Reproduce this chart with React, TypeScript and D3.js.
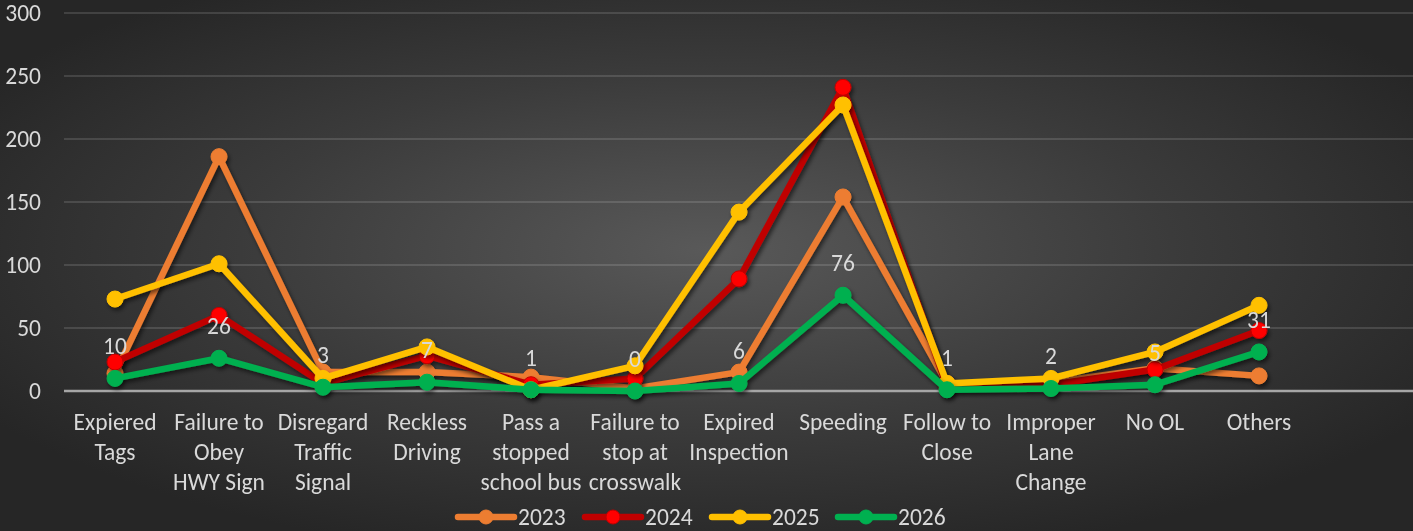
import React from "react";
import * as d3 from "d3";

const categories: string[][] = [
  ["Expiered", "Tags"],
  ["Failure to", "Obey", "HWY Sign"],
  ["Disregard", "Traffic", "Signal"],
  ["Reckless", "Driving"],
  ["Pass a", "stopped", "school bus"],
  ["Failure to", "stop at", "crosswalk"],
  ["Expired", "Inspection"],
  ["Speeding"],
  ["Follow to", "Close"],
  ["Improper", "Lane", "Change"],
  ["No OL"],
  ["Others"],
];

const values2023 = [14, 186, 15, 15, 11, 2, 15, 154, 6, 7, 18, 12];
const values2024 = [23, 60, 6, 28, 5, 10, 89, 241, 3, 5, 17, 48];
const values2025 = [73, 101, 10, 35, 1, 20, 142, 227, 6, 10, 31, 68];
const values2026 = [10, 26, 3, 7, 1, 0, 6, 76, 1, 2, 5, 31];

const yTicks = [0, 50, 100, 150, 200, 250, 300];

const seriesNames = ["2023", "2024", "2025", "2026"];
const seriesData = [values2023, values2024, values2025, values2026];
const lineColors = ["#ED7D31", "#C00000", "#FFC000", "#00B050"];
const markerFills = ["#ED7D31", "#FF0000", "#FFC000", "#00B050"];
const markerStrokes = ["#ED7D31", "#C00000", "#FFC000", "#00B050"];

const W = 1413;
const H = 531;
const FONT = "Carlito, Lato, 'Open Sans', sans-serif";
const FS = 23.5;

export default function App() {
  const keys = categories.map((c) => c.join(" "));
  const x = d3.scalePoint<string>().domain(keys).range([115, 1259]);
  const y = d3.scaleLinear().domain([0, 300]).range([391, 13]);
  const line = d3
    .line<number>()
    .x((_, i) => x(keys[i]) as number)
    .y((d) => y(d));

  const legendX = [458, 585, 712, 838];
  const legendY = 517;

  return (
    <svg
      width={W}
      height={H}
      style={{ position: "fixed", left: 0, top: 0, display: "block" }}
      fontFamily={FONT}
    >
      <defs>
        <radialGradient id="bg" cx="50%" cy="47%" r="60%" gradientUnits="objectBoundingBox">
          <stop offset="0%" stopColor="#595959" />
          <stop offset="55%" stopColor="#3b3b3b" />
          <stop offset="100%" stopColor="#262626" />
        </radialGradient>
        <filter id="shadow" x="-10%" y="-10%" width="120%" height="130%">
          <feDropShadow dx="2" dy="3" stdDeviation="2" floodColor="#000" floodOpacity="0.55" />
        </filter>
      </defs>
      <rect x={0} y={0} width={W} height={H} fill="url(#bg)" />

      {yTicks.map((t) => (
        <g key={t}>
          {t !== 0 && (
            <line x1={64} x2={W} y1={y(t)} y2={y(t)} stroke="#ffffff" strokeOpacity={0.13} strokeWidth={2} />
          )}
          <text
            x={41}
            y={y(t)}
            textAnchor="end"
            dominantBaseline="central"
            fill="#d9d9d9"
            fontSize={FS}
          >
            {t}
          </text>
        </g>
      ))}
      <line x1={64} x2={W} y1={y(0)} y2={y(0)} stroke="#a6a6a6" strokeWidth={2.5} />

      {categories.map((lines, i) => (
        <text key={i} textAnchor="middle" fill="#d9d9d9" fontSize={FS}>
          {lines.map((l, j) => (
            <tspan key={j} x={x(keys[i]) as number} y={430 + j * 30}>
              {l}
            </tspan>
          ))}
        </text>
      ))}

      {seriesData.map((vals, s) => (
        <g key={seriesNames[s]} filter="url(#shadow)">
          <path
            d={line(vals) as string}
            fill="none"
            stroke={lineColors[s]}
            strokeWidth={6.5}
            strokeLinejoin="round"
            strokeLinecap="round"
          />
          {vals.map((v, i) => (
            <circle
              key={i}
              cx={x(keys[i]) as number}
              cy={y(v)}
              r={8}
              fill={markerFills[s]}
              stroke={markerStrokes[s]}
              strokeWidth={1}
            />
          ))}
        </g>
      ))}

      {values2026.map((v, i) => (
        <text
          key={i}
          x={x(keys[i]) as number}
          y={y(v) - 32}
          textAnchor="middle"
          dominantBaseline="central"
          fill="#d9d9d9"
          fontSize={FS}
        >
          {v}
        </text>
      ))}

      {seriesNames.map((name, s) => (
        <g key={name}>
          <line
            x1={legendX[s]}
            x2={legendX[s] + 56}
            y1={legendY}
            y2={legendY}
            stroke={lineColors[s]}
            strokeWidth={6.5}
            strokeLinecap="round"
          />
          <circle cx={legendX[s] + 28} cy={legendY} r={7} fill={markerFills[s]} stroke={markerStrokes[s]} strokeWidth={1} />
          <text x={legendX[s] + 60} y={legendY} dominantBaseline="central" fill="#d9d9d9" fontSize={FS}>
            {name}
          </text>
        </g>
      ))}
    </svg>
  );
}
